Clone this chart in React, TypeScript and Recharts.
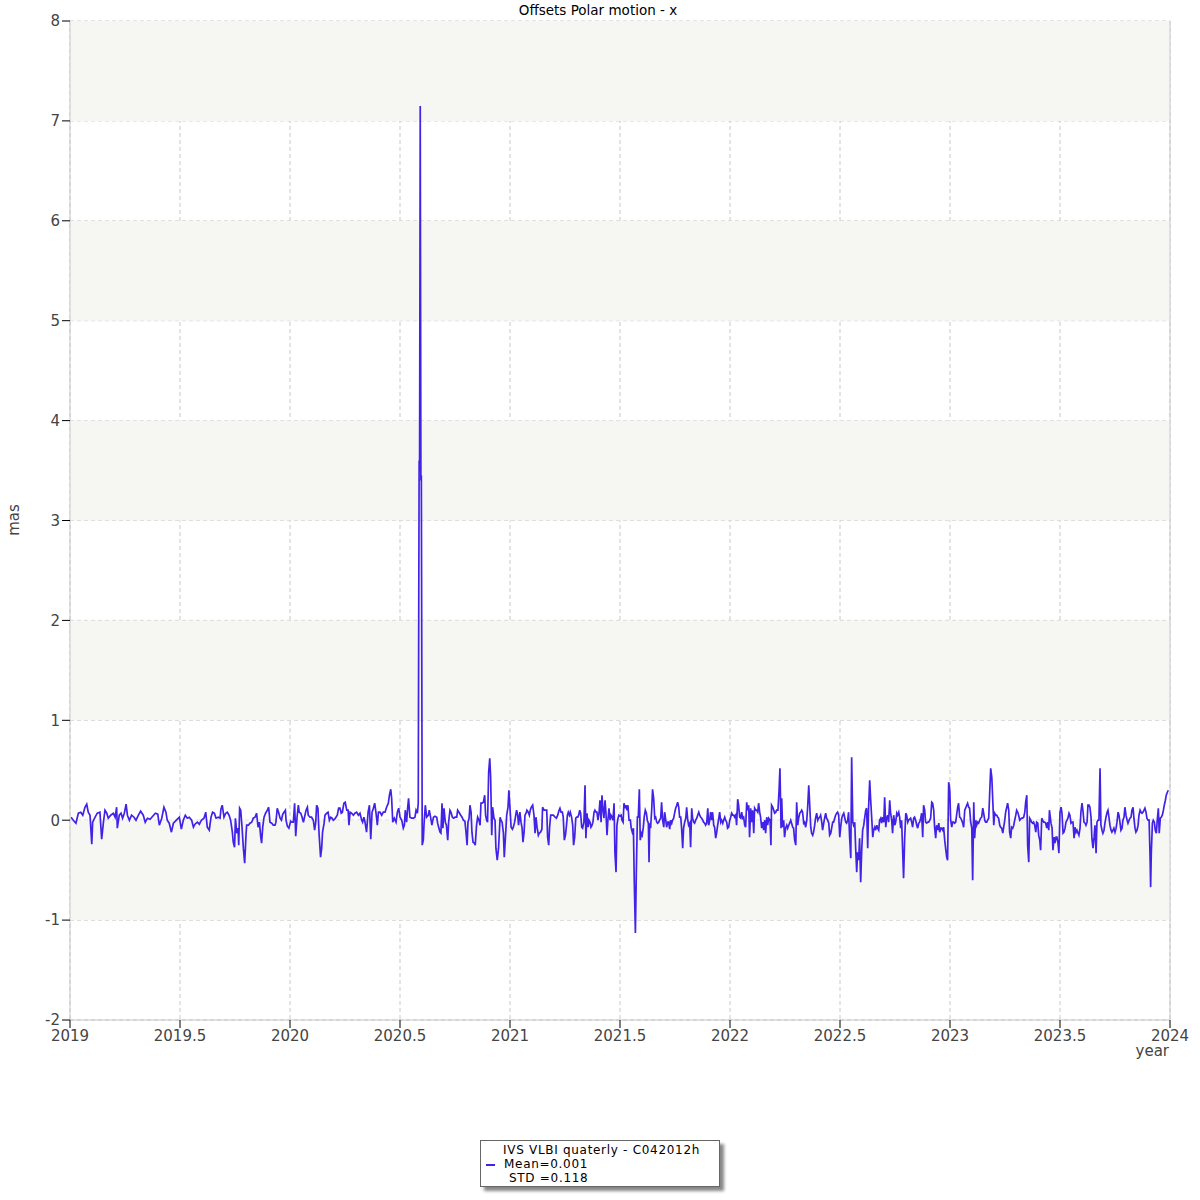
import {
  LineChart,
  Line,
  XAxis,
  YAxis,
  CartesianGrid,
  ReferenceArea,
  ReferenceLine,
} from "recharts";

// [fraction of year, offset in mas]
const obs2019: [number, number][] = [
  [.005, 0.03], [.015, 0], [.027, -0.03], [.038, 0.07], [.049, 0.08], [.058, 0.05], [.068, 0.13], [.076, 0.16],
  [.083, 0.08], [.091, 0.05], [.099, -0.24], [.103, -0.02], [.114, 0.03], [.124, 0.07], [.136, 0.08], [.144, -0.19],
  [.152, -0.02], [.159, 0.10], [.167, 0.07], [.174, 0.02], [.185, 0.05], [.197, 0.07], [.205, 0.03], [.212, 0.13],
  [.215, -0.08], [.224, 0.05], [.232, 0.07], [.239, 0.02], [.247, 0.07], [.255, 0.16], [.261, 0.05], [.270, 0],
  [.280, 0.05], [.291, 0.03], [.300, 0], [.311, 0.05], [.321, 0.09], [.333, 0.05], [.342, -0.02], [.352, 0.02],
  [.364, 0.01], [.376, 0.04], [.388, 0.07], [.399, 0.06], [.406, -0.05], [.417, 0.02], [.427, 0.13], [.436, 0.08],
  [.442, 0], [.451, -0.03], [.461, -0.12], [.470, -0.03], [.479, -0.01], [.488, 0.01], [.497, 0.03], [.506, -0.09],
  [.515, 0], [.524, 0.05], [.533, 0.02], [.542, 0.03], [.553, 0], [.561, -0.07], [.568, -0.04], [.579, -0.02],
  [.588, -0.04], [.597, 0], [.609, 0.02], [.617, 0.08], [.624, -0.07], [.633, -0.10], [.641, 0.03], [.648, 0.08],
  [.656, 0.07], [.664, 0.02], [.674, 0.03], [.682, 0.02], [.686, 0.11], [.692, 0.15], [.700, 0.03], [.708, 0.07],
  [.715, 0.08], [.723, 0.05], [.730, 0], [.738, -0.12], [.742, -0.22], [.748, -0.27], [.752, 0.02], [.758, -0.13],
  [.764, -0.08], [.767, -0.25], [.771, 0.12], [.776, 0.10], [.782, -0.07], [.788, -0.28], [.794, -0.43], [.800, -0.15],
  [.803, -0.05], [.811, -0.05], [.818, -0.03], [.826, -0.02], [.833, 0.02], [.841, 0.03], [.848, 0.07], [.855, -0.07],
  [.861, -0.02], [.867, -0.17], [.871, -0.23], [.876, -0.07], [.882, 0.03], [.889, 0.07], [.897, 0.10], [.903, 0.13],
  [.909, -0.02], [.917, -0.03], [.924, -0.05], [.932, -0.05], [.936, -0.02], [.942, 0.12], [.948, 0.08], [.955, 0.02],
  [.961, 0], [.967, 0.06], [.973, 0.08], [.979, 0.10], [.982, 0], [.988, -0.06], [.995, -0.08],
];

const obs2020: [number, number][] = [
  [.003, -0.01], [.009, -0.02], [.015, -0.02], [.021, 0.17], [.026, -0.16], [.032, 0.03], [.038, 0.15], [.042, 0.08],
  [.049, 0.07], [.055, 0.03], [.061, -0.02], [.067, 0.04], [.073, 0.10], [.079, 0.13], [.083, 0.05], [.091, 0.03],
  [.098, 0.03], [.106, 0], [.112, -0.10], [.117, -0.02], [.121, 0.15], [.127, 0.12], [.132, -0.13], [.139, -0.37],
  [.144, -0.28], [.148, -0.12], [.155, -0.03], [.159, 0.05], [.167, 0.07], [.173, 0.08], [.179, 0], [.185, 0.03],
  [.191, 0.02], [.197, 0], [.203, 0.01], [.209, 0.03], [.215, 0.05], [.221, 0.12], [.227, 0.12], [.233, 0.07],
  [.238, 0.08], [.245, 0.17], [.251, 0.18], [.258, 0.10], [.264, 0.10], [.268, -0.05], [.273, 0.08], [.280, 0.07],
  [.288, 0.05], [.295, 0.07], [.303, 0.08], [.311, 0.05], [.318, 0.07], [.326, 0], [.330, -0.02], [.336, 0.03],
  [.341, -0.02], [.348, -0.12], [.355, 0.08], [.361, 0.15], [.367, -0.19], [.373, 0.08], [.379, 0.12], [.385, 0.17],
  [.391, 0.07], [.397, -0.05], [.402, 0.08], [.409, 0.08], [.417, 0.05], [.424, 0.08], [.432, 0.08], [.439, 0.13],
  [.447, 0.17], [.452, 0.25], [.458, 0.31], [.462, 0.22], [.467, -0.02], [.474, 0.02], [.482, -0.02], [.488, 0.08],
  [.494, 0.12], [.500, 0.03], [.508, 0], [.515, -0.08], [.520, -0.05], [.524, 0.10], [.530, -0.02], [.535, 0.13],
  [.539, 0.22], [.545, 0.03], [.553, 0.02], [.561, 0.02], [.568, 0.03], [.573, 0.10], [.579, 0.07], [.583, 0.17],
  [.587, 3.6], [.589, 3.5], [.592, 7.15], [.595, 3.4], [.597, 3.45], [.601, -0.25], [.606, -0.20], [.609, -0.05],
  [.615, 0.15], [.621, 0.03],
  [.629, 0.05], [.633, 0.10], [.639, 0.03], [.645, -0.05], [.652, 0.03], [.659, 0.04], [.667, 0.03], [.671, -0.03],
  [.677, -0.08], [.682, -0.12], [.686, -0.13], [.691, 0.17], [.695, -0.08], [.700, 0.12], [.706, -0.02], [.711, -0.05],
  [.717, -0.20], [.721, -0.02], [.727, 0.10], [.732, 0.08], [.738, 0.03], [.744, 0.02], [.750, 0.03], [.758, 0.03],
  [.762, 0.10], [.768, 0.08], [.776, 0.05], [.782, 0.03], [.788, 0], [.795, -0.01], [.800, -0.12], [.805, -0.25],
  [.809, -0.02], [.814, 0.02], [.818, 0.15], [.823, 0.08], [.827, -0.12], [.832, -0.22], [.838, -0.23], [.842, -0.25],
  [.848, -0.05], [.853, 0.03], [.859, 0], [.864, -0.05], [.868, 0.17], [.873, 0.17], [.879, 0.18], [.885, 0.25],
  [.889, 0.05], [.894, 0], [.898, -0.02], [.903, 0.48], [.908, 0.62], [.912, 0.43], [.917, -0.15], [.921, 0.13],
  [.927, 0.02], [.932, 0], [.936, -0.28], [.942, -0.40], [.948, -0.28], [.955, 0.03], [.959, 0], [.964, -0.02],
  [.970, -0.13], [.974, -0.37], [.979, -0.18], [.985, 0.05], [.991, 0.13], [.995, 0.30],
];

const obs2021: [number, number][] = [
  [.000, 0.12], [.005, -0.07], [.011, -0.09], [.015, -0.07], [.021, -0.02], [.026, 0.05], [.030, 0.10], [.035, 0.05],
  [.039, -0.05], [.045, 0.08], [.050, -0.02], [.055, -0.08], [.059, -0.22], [.064, -0.12], [.068, 0.05], [.073, 0.07],
  [.077, 0.10], [.083, 0.08], [.088, 0.05], [.092, 0.10], [.097, 0.13], [.103, 0.15], [.109, 0.05], [.114, -0.13],
  [.118, 0.03], [.123, -0.07], [.129, -0.15], [.133, -0.13], [.139, -0.12], [.145, -0.09], [.148, 0.13], [.155, 0.10],
  [.161, 0.10], [.167, 0.10], [.171, -0.17], [.176, -0.25], [.180, -0.07], [.185, 0.05], [.191, 0.05], [.197, 0.05],
  [.205, 0.03], [.211, 0.02], [.217, 0.05], [.223, 0.10], [.227, 0.12], [.232, 0.08], [.238, 0.08], [.242, 0.03],
  [.247, -0.20], [.252, -0.15], [.256, -0.07], [.261, 0.05], [.265, 0.08], [.270, 0.05], [.274, 0.08], [.280, 0.03],
  [.285, -0.05], [.289, -0.25], [.294, -0.17], [.299, 0.02], [.303, 0.03], [.308, 0.03], [.312, 0.05], [.317, 0.10],
  [.321, 0.07], [.326, -0.07], [.330, -0.08], [.336, -0.02], [.341, 0.35], [.345, -0.18], [.350, 0.07], [.355, -0.07],
  [.359, 0], [.364, -0.02], [.368, -0.07], [.373, -0.05], [.377, -0.02], [.382, 0.08], [.386, 0.10], [.391, 0.08],
  [.395, 0.08], [.400, 0], [.405, 0.08], [.409, 0.20], [.414, -0.02], [.418, 0.25], [.423, 0.10], [.427, 0.02],
  [.432, 0.20], [.436, 0.08], [.441, -0.15], [.445, 0], [.450, 0.12], [.455, 0], [.459, 0.05], [.464, 0.03],
  [.468, 0], [.473, 0.17], [.477, -0.33], [.482, -0.52], [.486, -0.05], [.491, 0.02], [.495, 0.05], [.500, 0.04],
  [.505, 0.05], [.509, 0], [.514, -0.02], [.518, 0.17], [.523, 0.12], [.527, 0.15], [.532, 0.10], [.536, 0.15],
  [.541, 0], [.547, 0], [.551, -0.08], [.556, -0.12], [.561, -0.08], [.565, -0.63], [.570, -1.13], [.574, -0.55],
  [.579, 0.03], [.583, 0.03], [.588, 0.31], [.592, -0.20], [.597, -0.13], [.601, -0.15], [.606, -0.07], [.610, 0.03],
  [.615, 0.10], [.620, 0.07], [.624, 0], [.629, -0.03], [.632, -0.42], [.635, -0.03], [.639, -0.08], [.644, 0.10],
  [.648, 0.31], [.653, 0.22], [.658, 0.02], [.662, 0.03], [.667, -0.02], [.671, -0.03], [.676, -0.02], [.680, 0],
  [.685, 0.02], [.689, 0.18], [.694, 0], [.699, -0.07], [.703, 0.08], [.708, 0], [.712, -0.07], [.717, -0.02],
  [.721, -0.02], [.726, -0.09], [.730, 0], [.735, -0.03], [.739, 0], [.744, 0.02], [.749, 0.08], [.753, 0.12],
  [.758, 0.15], [.762, 0.18], [.767, 0.13], [.771, 0.03], [.776, 0.03], [.780, -0.08], [.785, -0.28], [.789, -0.08],
  [.794, -0.02], [.799, 0.02], [.803, 0.13], [.808, 0], [.812, -0.05], [.817, -0.03], [.821, -0.27], [.826, 0.12],
  [.830, 0.02], [.835, -0.02], [.839, -0.03], [.844, 0], [.849, 0.02], [.853, 0.05], [.858, 0.08], [.862, 0.05],
  [.867, 0.03], [.871, 0.02], [.876, 0], [.880, -0.02], [.885, -0.03], [.889, -0.05], [.894, -0.03], [.899, 0.12],
  [.903, -0.05], [.908, 0], [.912, 0.08], [.917, 0], [.921, 0.08], [.926, -0.05], [.930, -0.07], [.935, -0.18],
  [.939, -0.13], [.944, -0.05], [.949, 0.02], [.953, 0.08], [.958, -0.02], [.962, 0], [.967, -0.03], [.971, 0],
  [.976, 0.03], [.980, 0], [.985, -0.02], [.989, -0.08], [.994, -0.07], [.999, 0],
];

const obs2022: [number, number][] = [
  [.003, 0.03], [.008, 0.07], [.012, 0.05], [.017, 0.05], [.021, 0.03], [.026, 0.05], [.030, -0.05], [.035, 0.21],
  [.039, 0.15], [.044, 0.03], [.049, 0.02], [.053, 0.08], [.058, 0.02], [.062, 0.03], [.067, -0.05], [.071, -0.07],
  [.076, 0.18], [.080, 0.10], [.085, 0.15], [.089, -0.17], [.094, 0.12], [.099, -0.02], [.103, 0.10], [.108, -0.13],
  [.112, 0.12], [.117, 0.10], [.121, 0.10], [.126, 0.08], [.130, 0.17], [.135, 0.08], [.139, 0.03], [.144, -0.08],
  [.149, -0.02], [.153, -0.10], [.158, 0], [.162, -0.13], [.167, 0.03], [.171, -0.05], [.176, 0.02], [.182, 0],
  [.186, -0.25], [.189, 0.15], [.194, 0.13], [.199, 0.10], [.203, 0.07], [.208, 0.08], [.212, 0.10], [.218, 0.10],
  [.223, 0.30], [.227, 0.52], [.232, -0.08], [.235, 0.22], [.239, -0.07], [.244, 0], [.248, -0.17], [.253, -0.08],
  [.258, -0.05], [.262, -0.08], [.267, -0.05], [.271, -0.03], [.276, 0], [.280, -0.03], [.285, -0.07], [.289, -0.08],
  [.294, -0.20], [.299, -0.25], [.303, 0.18], [.308, -0.05], [.312, 0.02], [.317, 0.07], [.321, 0.08], [.326, 0.10],
  [.330, 0.08], [.335, -0.03], [.339, -0.02], [.344, -0.07], [.349, 0], [.353, 0.13], [.358, 0.35], [.362, 0.17],
  [.367, -0.07], [.371, -0.13], [.376, -0.15], [.380, -0.12], [.385, -0.05], [.389, 0.02], [.394, 0.07], [.399, 0],
  [.403, 0.02], [.408, 0.03], [.412, 0.05], [.417, -0.02], [.421, -0.10], [.426, -0.03], [.430, 0.02], [.435, 0.07],
  [.439, 0.02], [.444, 0], [.449, -0.03], [.453, -0.15], [.458, -0.13], [.462, -0.08], [.467, -0.02], [.471, -0.02],
  [.476, 0.02], [.480, 0.05], [.485, 0.07], [.489, 0.08], [.494, 0.05], [.499, -0.17], [.503, -0.07], [.508, 0.02],
  [.512, 0.05], [.517, 0.07], [.521, 0.03], [.526, -0.02], [.530, -0.03], [.535, 0], [.539, 0.08], [.544, -0.18],
  [.549, -0.38], [.553, 0.63], [.558, -0.02], [.562, -0.05], [.567, -0.02], [.571, -0.27], [.576, -0.52], [.580, -0.32],
  [.585, -0.40], [.589, -0.18], [.594, -0.62], [.599, -0.28], [.603, -0.10], [.608, -0.05], [.612, 0.02], [.617, 0.10],
  [.621, 0.12], [.626, -0.28], [.630, 0.13], [.635, 0.40], [.639, 0.22], [.644, 0.03], [.649, -0.17], [.653, -0.10],
  [.658, -0.07], [.662, -0.10], [.667, -0.05], [.671, -0.08], [.676, -0.10], [.680, 0], [.685, 0.02], [.689, -0.03],
  [.694, 0.03], [.699, -0.02], [.703, 0.23], [.708, -0.07], [.712, 0.02], [.717, 0.05], [.721, -0.02], [.726, 0.20],
  [.730, 0.07], [.735, 0], [.739, -0.13], [.744, 0.05], [.749, -0.05], [.753, -0.02], [.758, 0.07], [.762, 0.05],
  [.767, 0.08], [.771, 0.03], [.776, -0.08], [.780, 0], [.785, -0.32], [.789, -0.58], [.794, -0.18], [.799, 0.07],
  [.803, 0.05], [.808, -0.02], [.812, 0], [.821, 0.02], [.826, -0.02], [.830, -0.07], [.835, 0.02], [.839, 0.03],
  [.844, 0], [.849, -0.05], [.853, -0.08], [.858, -0.03], [.862, -0.02], [.867, 0.02], [.871, 0.07], [.876, -0.17],
  [.880, 0.15], [.885, 0.10], [.889, -0.02], [.894, -0.03], [.899, -0.02], [.903, -0.02], [.908, 0], [.912, 0.02],
  [.917, 0.18], [.921, 0.17], [.926, 0.10], [.930, -0.07], [.935, -0.18], [.939, -0.05], [.944, -0.10], [.949, -0.03],
  [.953, -0.12], [.958, -0.08], [.962, -0.08], [.967, -0.10], [.971, -0.07], [.976, -0.20], [.980, -0.28], [.985, -0.37],
  [.989, -0.40], [.994, 0.38], [.999, 0.30],
];

const obs2023: [number, number][] = [
  [.003, 0], [.008, -0.07], [.012, -0.02], [.017, -0.02], [.021, -0.03], [.026, -0.02], [.030, 0.05], [.035, 0.13],
  [.039, 0.17], [.044, 0.03], [.049, 0.02], [.053, 0], [.058, -0.03], [.062, -0.07], [.067, 0.10], [.071, 0.12],
  [.076, 0.15], [.080, 0.17], [.085, 0.13], [.089, 0.12], [.094, -0.02], [.099, -0.08], [.103, -0.60], [.108, 0.18],
  [.112, -0.18], [.117, 0], [.121, -0.05], [.126, -0.02], [.130, -0.03], [.135, 0], [.139, 0.02], [.144, 0.03],
  [.149, 0.12], [.153, 0.07], [.158, 0], [.162, -0.02], [.167, -0.02], [.171, 0], [.176, 0.02], [.180, 0.25],
  [.185, 0.52], [.190, 0.43], [.194, 0.22], [.199, -0.05], [.203, 0.07], [.208, 0.05], [.212, 0.05], [.217, 0.03],
  [.221, 0.02], [.226, -0.05], [.230, -0.07], [.235, -0.08], [.240, -0.13], [.244, -0.07], [.249, 0], [.253, 0.08],
  [.258, 0.13], [.262, 0.17], [.267, 0.10], [.271, -0.12], [.276, -0.18], [.280, -0.07], [.285, -0.08], [.290, -0.05],
  [.294, 0], [.299, 0.05], [.303, 0.10], [.308, 0.08], [.312, 0.05], [.317, 0], [.321, 0.01], [.326, 0.02],
  [.330, 0.02], [.335, 0.03], [.340, 0.08], [.344, 0.18], [.349, 0.25], [.353, -0.25], [.358, -0.42], [.362, 0.02],
  [.367, 0], [.371, -0.02], [.376, -0.03], [.380, -0.02], [.385, -0.05], [.390, -0.12], [.394, -0.02], [.399, -0.03],
  [.403, -0.15], [.408, -0.20], [.412, -0.30], [.417, 0.02], [.421, 0], [.426, -0.02], [.430, -0.02], [.435, -0.03],
  [.440, -0.08], [.444, -0.02], [.449, -0.10], [.452, 0.10], [.459, -0.03], [.464, -0.08], [.468, -0.30], [.473, -0.17],
  [.477, -0.23], [.482, -0.17], [.486, -0.17], [.491, -0.23], [.495, -0.33], [.500, 0.08], [.505, 0.13], [.509, 0.07],
  [.514, -0.13], [.518, -0.12], [.523, -0.08], [.527, -0.02], [.532, 0], [.536, 0.02], [.541, 0.07], [.545, 0.05],
  [.550, -0.03], [.555, -0.02], [.559, -0.02], [.564, -0.18], [.568, -0.07], [.573, -0.12], [.577, -0.10], [.582, -0.13],
  [.586, -0.15], [.591, -0.08], [.595, 0.08], [.600, 0.17], [.605, 0.08], [.609, -0.02], [.614, -0.03], [.618, -0.05],
  [.623, -0.02], [.627, 0.15], [.632, 0.15], [.636, 0.13], [.641, 0.03], [.645, -0.18], [.650, -0.28], [.655, -0.17],
  [.659, -0.05], [.664, -0.33], [.668, -0.02], [.673, 0], [.677, 0], [.682, 0.52], [.686, -0.05], [.691, -0.10],
  [.695, -0.13], [.700, -0.10], [.705, -0.02], [.709, 0.03], [.714, 0.08], [.718, 0.10], [.723, 0.02], [.727, -0.05],
  [.732, -0.10], [.736, -0.12], [.741, -0.10], [.745, -0.08], [.750, -0.12], [.755, -0.08], [.759, -0.02], [.764, 0.08],
  [.768, 0.05], [.773, -0.03], [.777, -0.10], [.782, -0.08], [.786, 0], [.791, 0.03], [.795, 0.13], [.800, 0.05],
  [.805, 0], [.809, -0.03], [.814, 0], [.818, 0.02], [.823, 0.03], [.827, 0.10], [.832, 0.13], [.836, 0.02],
  [.841, -0.08], [.845, -0.12], [.850, -0.10], [.855, -0.05], [.859, 0.05], [.864, 0.10], [.868, 0.08], [.873, 0.07],
  [.877, 0.08], [.882, 0.10], [.886, 0.12], [.891, 0.08], [.895, 0.02], [.900, 0], [.905, 0], [.909, -0.33],
  [.912, -0.67], [.915, -0.33], [.920, -0.03], [.924, 0], [.929, -0.02], [.933, -0.10], [.938, -0.13], [.942, 0],
  [.947, 0.12], [.951, -0.13], [.956, 0.02], [.960, 0.03], [.965, 0.05], [.970, 0.10], [.974, 0.15], [.979, 0.20],
  [.983, 0.25], [.988, 0.28], [.992, 0.30],
];

const yearTicks = [2019, 2019.5, 2020, 2020.5, 2021, 2021.5, 2022, 2022.5, 2023, 2023.5, 2024];
const masTicks = [-2, -1, 0, 1, 2, 3, 4, 5, 6, 7, 8];
// shaded horizontal bands [from, to]
const bands: [number, number][] = [[7, 8], [5, 6], [3, 4], [1, 2], [-1, 0]];

const byYear: [number, [number, number][]][] = [
  [2019, obs2019],
  [2020, obs2020],
  [2021, obs2021],
  [2022, obs2022],
  [2023, obs2023],
];

const data = byYear.flatMap(([year, pts]) =>
  pts.map(([t, v]) => ({ year: year + t, mas: v }))
);

const LINE_COLOR = "#4322e8";
const FONT = '"DejaVu Sans", Verdana, sans-serif';

export default function App() {
  return (
    <div
      style={{
        position: "absolute",
        left: 0,
        top: 0,
        width: 1200,
        height: 1200,
        fontFamily: FONT,
        background: "#fff",
      }}
    >
      <LineChart
        width={1200}
        height={1200}
        data={data}
        margin={{ top: 21, right: 30, bottom: 150, left: 0 }}
      >
        {bands.map(([a, b]) => (
          <ReferenceArea
            key={a}
            y1={a}
            y2={b}
            fill="#f6f6f2"
            fillOpacity={1}
            stroke="none"
          />
        ))}
        <CartesianGrid stroke="#c8c8c8" strokeDasharray="4 3" />
        <XAxis
          dataKey="year"
          type="number"
          domain={[2019, 2024]}
          ticks={yearTicks}
          interval={0}
          height={30}
          tickSize={8}
          tickLine={{ stroke: "#000" }}
          axisLine={{ stroke: "#c8c8c8" }}
          tick={{ fill: "#444", fontSize: 15, fontFamily: FONT }}
        />
        <YAxis
          type="number"
          domain={[-2, 8]}
          ticks={masTicks}
          interval={0}
          width={70}
          tickSize={8}
          tickLine={{ stroke: "#000" }}
          axisLine={{ stroke: "#c8c8c8" }}
          tick={{ fill: "#444", fontSize: 15, fontFamily: FONT }}
        />
        <ReferenceLine x={2024} stroke="#c8c8c8" />
        <Line
          type="linear"
          dataKey="mas"
          stroke={LINE_COLOR}
          strokeWidth={1.7}
          dot={false}
          isAnimationActive={false}
        />
      </LineChart>

      <div
        style={{
          position: "absolute",
          left: 0,
          width: 1196,
          top: 2,
          textAlign: "center",
          fontSize: 13.5,
          lineHeight: "16px",
          color: "#000",
        }}
      >
        Offsets Polar motion - x
      </div>

      <div
        style={{
          position: "absolute",
          left: 14,
          top: 520,
          transform: "translate(-50%, -50%) rotate(-90deg)",
          fontSize: 15,
          color: "#444",
        }}
      >
        mas
      </div>

      <div
        style={{
          position: "absolute",
          right: 31,
          top: 1042,
          fontSize: 15,
          lineHeight: "18px",
          color: "#444",
        }}
      >
        year
      </div>

      <div
        style={{
          position: "absolute",
          left: 480,
          top: 1140,
          width: 238,
          height: 45,
          border: "1px solid #666",
          background: "#fff",
          boxShadow: "4px 4px 3px #888",
          fontSize: 12,
          letterSpacing: 0.7,
          lineHeight: "14px",
          color: "#000",
        }}
      >
        <div style={{ position: "absolute", left: 22, top: 2 }}>IVS VLBI quaterly - C042012h</div>
        <div
          style={{
            position: "absolute",
            left: 5,
            top: 23,
            width: 9,
            height: 2,
            background: LINE_COLOR,
          }}
        />
        <div style={{ position: "absolute", left: 23, top: 16 }}>Mean=0.001</div>
        <div style={{ position: "absolute", left: 28, top: 30 }}>STD =0.118</div>
      </div>
    </div>
  );
}
